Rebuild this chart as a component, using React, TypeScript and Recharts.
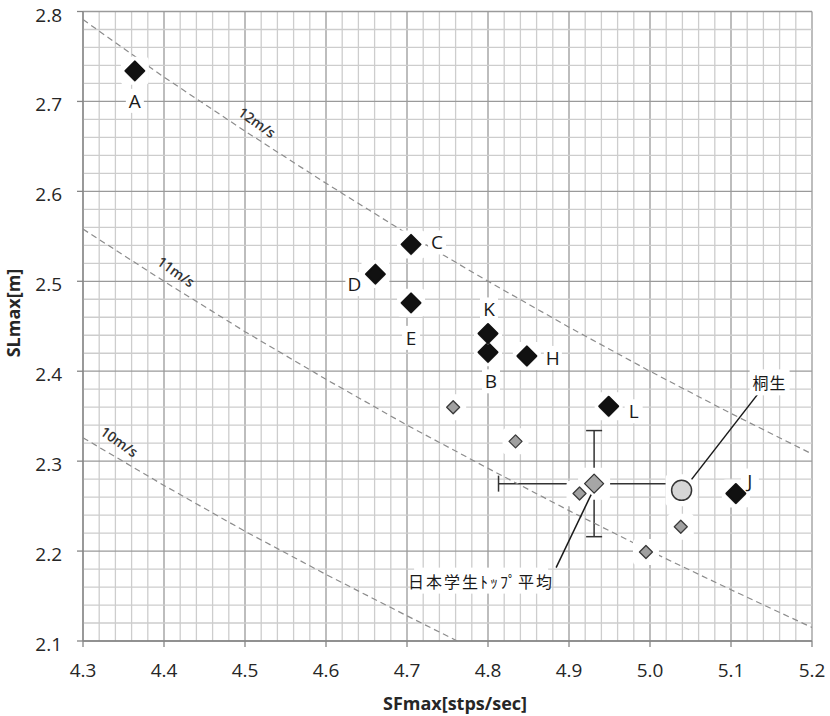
import React from 'react';
import { ScatterChart, Scatter, XAxis, YAxis, ReferenceLine, ErrorBar, Label } from 'recharts';

// axis ticks
const xTicks = [4.3, 4.4, 4.5, 4.6, 4.7, 4.8, 4.9, 5.0, 5.1, 5.2];
const yTicks = [2.1, 2.2, 2.3, 2.4, 2.5, 2.6, 2.7, 2.8];

// named runners (black diamonds)
const runners = ['A', 'B', 'C', 'D', 'E', 'H', 'J', 'K', 'L'];
const runnerSF = [4.364, 4.8, 4.705, 4.661, 4.705, 4.848, 5.106, 4.8, 4.949];
const runnerSL = [2.734, 2.421, 2.541, 2.508, 2.476, 2.417, 2.264, 2.442, 2.361];

// Japanese university sprinters (small grey diamonds)
const studentSF = [4.757, 4.834, 4.913, 5.038, 4.995];
const studentSL = [2.36, 2.322, 2.264, 2.227, 2.199];

// student top average with SD
const avgSF = [4.931];
const avgSL = [2.275];
const avgSdSF = [0.118];
const avgSdSL = [0.059];

// Kiryu
const kiryuSF = [5.039];
const kiryuSL = [2.2675];

// iso-speed guide curves
const isoSF = [4.3, 4.4, 4.5, 4.6, 4.7, 4.8, 4.9, 5.0, 5.1, 5.2];
const iso12 = [2.791, 2.727, 2.667, 2.609, 2.553, 2.5, 2.449, 2.4, 2.353, 2.308];
const iso11 = [2.558, 2.5, 2.444, 2.391, 2.34, 2.292, 2.245, 2.2, 2.157, 2.115];
const iso10SF = [4.3, 4.4, 4.5, 4.6, 4.7, 4.762];
const iso10 = [2.326, 2.273, 2.222, 2.174, 2.128, 2.1];
const isoNames = ['12m/s', '11m/s', '10m/s'];
const isoTagSF = [4.515, 4.415, 4.345];
const isoTagSL = [2.677, 2.511, 2.322];

const runnerData = runners.map((name, i) => ({ name, x: runnerSF[i], y: runnerSL[i] }));
const studentData = studentSF.map((x, i) => ({ x, y: studentSL[i] }));
const avgData = avgSF.map((x, i) => ({ x, y: avgSL[i], ex: avgSdSF[i], ey: avgSdSL[i] }));
const kiryuData = kiryuSF.map((x, i) => ({ x, y: kiryuSL[i] }));
const iso12Data = isoSF.map((x, i) => ({ x, y: iso12[i] }));
const iso11Data = isoSF.map((x, i) => ({ x, y: iso11[i] }));
const iso10Data = iso10SF.map((x, i) => ({ x, y: iso10[i] }));
const isoTagData = isoNames.map((name, i) => ({ name, x: isoTagSF[i], y: isoTagSL[i] }));

const gridX = Array.from({ length: 46 }, (_, i) => Math.round((4.3 + i * 0.02) * 100) / 100);
const gridY = Array.from({ length: 36 }, (_, i) => Math.round((2.1 + i * 0.02) * 100) / 100);

const FONT = '"Open Sans", "Noto Sans", sans-serif';
const JP = '"Noto Sans CJK JP", "Open Sans", sans-serif';

// label offsets (px) from each marker
const labelOffset: Record<string, [number, number]> = {
  A: [0, 30], B: [3, 29], C: [26, -2], D: [-21, 10], E: [0, 35],
  H: [26, 2], J: [14, -13], K: [1, -24], L: [25, 5],
};

const halo = (h: number) => (p: any) => (
  <rect x={p.cx - h} y={p.cy - h} width={h * 2} height={h * 2} rx={4} fill="#fff" />
);

// marker halo plus the white box behind its letter
const RunnerHalo = (p: any) => {
  const { cx, cy, payload } = p;
  const [dx, dy] = labelOffset[payload.name] || [0, 0];
  return (
    <g>
      <rect x={cx - 14} y={cy - 14} width={28} height={28} rx={4} fill="#fff" />
      <rect x={cx + dx - 9} y={cy + dy - 12} width={18} height={24} fill="#fff" />
    </g>
  );
};

const diamond = (cx: number, cy: number, r: number) =>
  `M${cx},${cy - r} L${cx + r},${cy} L${cx},${cy + r} L${cx - r},${cy} Z`;

const RunnerShape = (p: any) => {
  const { cx, cy, payload } = p;
  const [dx, dy] = labelOffset[payload.name] || [0, 0];
  return (
    <g>
      <path d={diamond(cx, cy + 1.5, 10)} fill="#bbb" opacity={0.5} />
      <path d={diamond(cx, cy, 9.5)} fill="#111" stroke="#111" strokeWidth={2} strokeLinejoin="round" />
      <text x={cx + dx} y={cy + dy} textAnchor="middle" dominantBaseline="central"
        fontSize={19} fontFamily={FONT} fill="#1a1a1a">{payload.name}</text>
    </g>
  );
};

const StudentShape = (p: any) => (
  <path d={diamond(p.cx, p.cy, 6.5)} fill="#a0a0a0" stroke="#3a3a3a" strokeWidth={1.3} strokeLinejoin="round" />
);

const AvgShape = (p: any) => {
  const { cx, cy } = p;
  return (
    <g>
      <path d={diamond(cx, cy, 9.5)} fill="#a6a6a6" stroke="#333" strokeWidth={1.3} strokeLinejoin="round" />
      <line x1={cx - 3} y1={cy + 11} x2={cx - 38} y2={cy + 84} stroke="#1a1a1a" strokeWidth={1.5} />
      <rect x={cx - 180} y={cy + 84} width={134} height={26} fill="#fff" />
      <text x={cx - 113} y={cy + 97} textAnchor="middle" dominantBaseline="central"
        fontSize={16} fontFamily={JP} letterSpacing={2} fill="#1a1a1a">日本学生ﾄｯﾌﾟ平均</text>
    </g>
  );
};

const KiryuShape = (p: any) => {
  const { cx, cy } = p;
  return (
    <g>
      <circle cx={cx} cy={cy} r={10} fill="#d6d6d6" stroke="#333" strokeWidth={1.5} />
      <line x1={cx + 10} y1={cy - 11} x2={cx + 76} y2={cy - 96} stroke="#1a1a1a" strokeWidth={1.5} />
      <rect x={cx + 68} y={cy - 121} width={40} height={26} fill="#fff" />
      <text x={cx + 88} y={cy - 108} textAnchor="middle" dominantBaseline="central"
        fontSize={16} fontFamily={JP} letterSpacing={1} fill="#1a1a1a">桐生</text>
    </g>
  );
};

const IsoTag = (p: any) => (
  <text x={p.cx} y={p.cy} textAnchor="middle" dominantBaseline="central"
    transform={`rotate(35 ${p.cx} ${p.cy})`} fontSize={14} fontWeight={600}
    fontFamily={FONT} fill="#333">{p.payload.name}</text>
);

const none = () => <g />;

const XTick = (p: any) => (
  <text x={p.x} y={p.y + 14} textAnchor="middle" fontSize={19} fontFamily={FONT} fill="#262626">
    {Number(p.payload.value).toFixed(1)}
  </text>
);

const YTick = (p: any) => (
  <text x={p.x} y={p.y + 10} textAnchor="end" fontSize={19} fontFamily={FONT} fill="#262626">
    {Number(p.payload.value).toFixed(1)}
  </text>
);

const dashed = { stroke: '#8c8c8c', strokeWidth: 1.2, strokeDasharray: '6 4' };

export default function App() {
  return (
    <div style={{ position: 'absolute', left: 0, top: 0, width: 830, height: 716, background: '#fff' }}>
      <ScatterChart width={830} height={716} margin={{ top: 11.5, right: 18, bottom: 0, left: 0 }}
        style={{ fontFamily: FONT }}>
        {gridX.map((v, i) => (
          <ReferenceLine key={'gx' + i} x={v} stroke={i % 5 === 0 ? '#9a9a9a' : '#cdcdcd'} strokeWidth={1.3} />
        ))}
        {gridY.map((v, i) => (
          <ReferenceLine key={'gy' + i} y={v} stroke={i % 5 === 0 ? '#9a9a9a' : '#cdcdcd'} strokeWidth={1.3} />
        ))}
        <XAxis type="number" dataKey="x" domain={[4.3, 5.2]} ticks={xTicks} allowDataOverflow
          height={75} tickSize={6} tickMargin={16} tick={XTick}
          axisLine={{ stroke: '#868686', strokeWidth: 1.3 }} tickLine={{ stroke: '#868686', strokeWidth: 1.3 }}>
          <Label content={() => (
            <text x={455} y={710} textAnchor="middle" fontSize={18} fontWeight={700}
              fontFamily={FONT} fill="#262626">SFmax[stps/sec]</text>
          )} />
        </XAxis>
        <YAxis type="number" dataKey="y" domain={[2.1, 2.8]} ticks={yTicks} allowDataOverflow
          width={83} tickSize={6} tickMargin={15} tick={YTick}
          axisLine={{ stroke: '#868686', strokeWidth: 1.3 }} tickLine={{ stroke: '#868686', strokeWidth: 1.3 }}>
          <Label content={() => (
            <text x={20} y={313} transform="rotate(-90 20 313)" textAnchor="middle" fontSize={18}
              fontWeight={700} fontFamily={FONT} fill="#262626">SLmax[m]</text>
          )} />
        </YAxis>

        <Scatter data={iso12Data} line={dashed} fill="#8c8c8c" shape={none} isAnimationActive={false} />
        <Scatter data={iso11Data} line={dashed} fill="#8c8c8c" shape={none} isAnimationActive={false} />
        <Scatter data={iso10Data} line={dashed} fill="#8c8c8c" shape={none} isAnimationActive={false} />

        <Scatter data={avgData} shape={none} isAnimationActive={false}>
          <ErrorBar dataKey="ex" direction="x" width={8} stroke="#333" strokeWidth={1.5} isAnimationActive={false} />
          <ErrorBar dataKey="ey" direction="y" width={8} stroke="#333" strokeWidth={1.5} isAnimationActive={false} />
        </Scatter>

        <Scatter data={runnerData} shape={RunnerHalo} isAnimationActive={false} />
        <Scatter data={studentData} shape={halo(13)} isAnimationActive={false} />
        <Scatter data={avgData} shape={halo(16)} isAnimationActive={false} />
        <Scatter data={kiryuData} shape={halo(16)} isAnimationActive={false} />

        <Scatter data={isoTagData} shape={IsoTag} isAnimationActive={false} />

        <Scatter data={studentData} shape={StudentShape} isAnimationActive={false} />
        <Scatter data={avgData} shape={AvgShape} isAnimationActive={false} />
        <Scatter data={runnerData} shape={RunnerShape} isAnimationActive={false} />
        <Scatter data={kiryuData} shape={KiryuShape} isAnimationActive={false} />
      </ScatterChart>
    </div>
  );
}
